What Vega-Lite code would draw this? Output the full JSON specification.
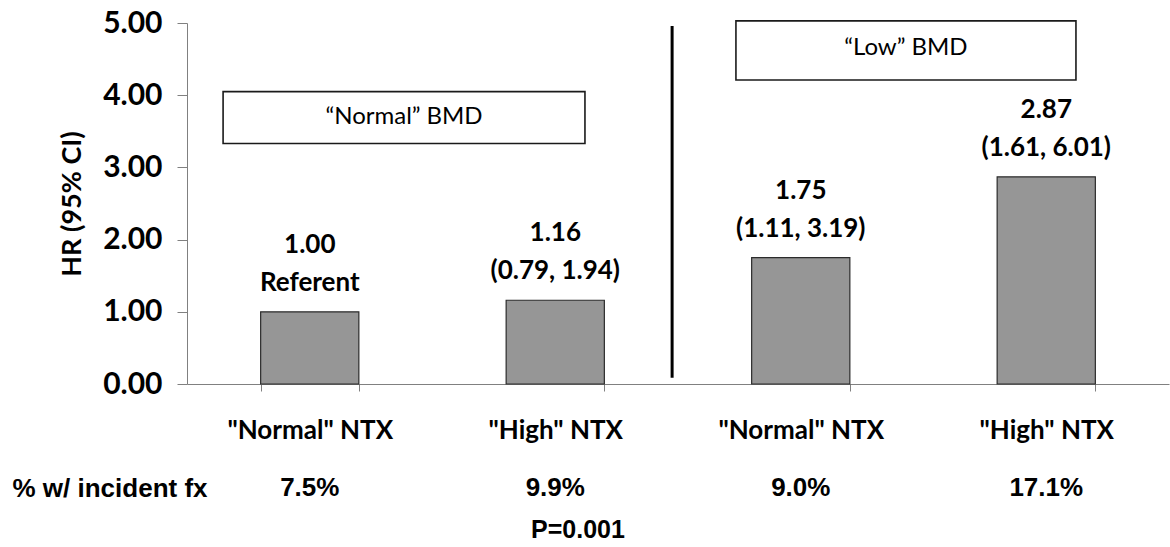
{
  "$schema": "https://vega.github.io/schema/vega-lite/v6.json",
  "width": 982,
  "height": 361,
  "autosize": "none",
  "padding": {"left": 187, "top": 23, "right": 1, "bottom": 163},
  "background": "white",
  "config": {"view": {"stroke": null}, "font": "Lato"},
  "title": {
    "text": "P=0.001",
    "orient": "bottom",
    "anchor": "middle",
    "font": "Liberation Sans",
    "fontSize": 25,
    "fontWeight": "bold",
    "color": "#000000",
    "dx": -100,
    "offset": 17
  },
  "datasets": {
    "hr": [
      {"group": "Normal BMD: \"Normal\" NTX", "hr": 1.00, "ci": "Referent", "pct": "7.5%"},
      {"group": "Normal BMD: \"High\" NTX", "hr": 1.16, "ci": "(0.79, 1.94)", "pct": "9.9%"},
      {"group": "Low BMD: \"Normal\" NTX", "hr": 1.75, "ci": "(1.11, 3.19)", "pct": "9.0%"},
      {"group": "Low BMD: \"High\" NTX", "hr": 2.87, "ci": "(1.61, 6.01)", "pct": "17.1%"}
    ],
    "boxes": [
      {"label": "“Normal” BMD", "x0": 0.147, "x1": 1.621, "y0": 3.33, "y1": 4.05, "xc": 0.884, "yc": 3.695},
      {"label": "“Low” BMD", "x0": 2.236, "x1": 3.621, "y0": 4.21, "y1": 5.03, "xc": 2.928, "yc": 4.66}
    ],
    "divider": [
      {"x": 1.976, "y0": 0.088, "y1": 4.96}
    ]
  },
  "layer": [
    {
      "data": {"name": "hr"},
      "encoding": {
        "x": {
          "field": "group",
          "type": "nominal",
          "sort": null,
          "scale": {"paddingInner": 0.6, "paddingOuter": 0.3},
          "axis": {
            "title": "% w/ incident fx",
            "labelExpr": "split(datum.label, ': ')[1]",
            "labelFont": "Lato",
            "labelFontSize": 26,
            "labelFontWeight": "bold",
            "labelColor": "#000000",
            "labelAngle": 0,
            "labelBaseline": "middle",
            "labelPadding": 39,
            "labelLimit": 0,
            "tickBand": "extent",
            "tickSize": 7,
            "tickColor": "#808080",
            "domainColor": "#808080",
            "titleFont": "Liberation Sans",
            "titleFontSize": 26,
            "titleFontWeight": "bold",
            "titleColor": "#000000",
            "titleX": -175,
            "titleY": 104,
            "titleAlign": "left",
            "titleBaseline": "middle"
          }
        }
      },
      "layer": [
        {
          "mark": {"type": "bar", "fill": "#969696", "stroke": "#2b2b2b", "strokeWidth": 1.2},
          "encoding": {
            "y": {
              "field": "hr",
              "type": "quantitative",
              "scale": {"domain": [0, 5]},
              "axis": {
                "title": "HR (95% CI)",
                "values": [0, 1, 2, 3, 4, 5],
                "format": ".2f",
                "grid": false,
                "labelFont": "Lato",
                "labelFontSize": 30,
                "labelFontWeight": "bold",
                "labelColor": "#000000",
                "tickSize": 10,
                "labelPadding": 15,
                "tickColor": "#808080",
                "domainColor": "#808080",
                "titleFont": "Lato",
                "titleFontSize": 27,
                "titleFontWeight": "bold",
                "titleColor": "#000000",
                "titleX": -115,
                "titleY": 180.5,
                "titleAngle": 270,
                "titleBaseline": "middle",
                "titleAlign": "center"
              }
            }
          }
        },
        {
          "mark": {"type": "text", "font": "Lato", "fontSize": 26, "fontWeight": "bold", "color": "#000000", "baseline": "middle", "dy": -67},
          "encoding": {
            "y": {"field": "hr", "type": "quantitative", "scale": {"domain": [0, 5]}},
            "text": {"field": "hr", "type": "quantitative", "format": ".2f"}
          }
        },
        {
          "mark": {"type": "text", "font": "Lato", "fontSize": 26, "fontWeight": "bold", "color": "#000000", "baseline": "middle", "dy": -29},
          "encoding": {
            "y": {"field": "hr", "type": "quantitative", "scale": {"domain": [0, 5]}},
            "text": {"field": "ci", "type": "nominal"}
          }
        },
        {
          "mark": {"type": "text", "font": "Liberation Sans", "fontSize": 26, "fontWeight": "bold", "color": "#000000", "baseline": "middle"},
          "encoding": {
            "y": {"datum": -1.436, "type": "quantitative", "scale": {"domain": [0, 5]}},
            "text": {"field": "pct", "type": "nominal"}
          }
        }
      ]
    },
    {
      "layer": [
        {
          "data": {"name": "boxes"},
          "mark": {"type": "rect", "fill": "white", "stroke": "#1a1a1a", "strokeWidth": 1.6},
          "encoding": {
            "x": {"field": "x0", "type": "quantitative", "scale": {"domain": [0, 4], "nice": false, "zero": false}, "axis": null},
            "x2": {"field": "x1"},
            "y": {"field": "y0", "type": "quantitative", "scale": {"domain": [0, 5]}},
            "y2": {"field": "y1"}
          }
        },
        {
          "data": {"name": "boxes"},
          "mark": {"type": "text", "font": "Lato", "fontSize": 24, "color": "#000000", "baseline": "middle", "align": "center"},
          "encoding": {
            "x": {"field": "xc", "type": "quantitative", "scale": {"domain": [0, 4], "nice": false, "zero": false}, "axis": null},
            "y": {"field": "yc", "type": "quantitative", "scale": {"domain": [0, 5]}},
            "text": {"field": "label", "type": "nominal"}
          }
        },
        {
          "data": {"name": "divider"},
          "mark": {"type": "rule", "stroke": "#000000", "strokeWidth": 3},
          "encoding": {
            "x": {"field": "x", "type": "quantitative", "scale": {"domain": [0, 4], "nice": false, "zero": false}, "axis": null},
            "y": {"field": "y0", "type": "quantitative", "scale": {"domain": [0, 5]}},
            "y2": {"field": "y1"}
          }
        }
      ]
    }
  ],
  "resolve": {"scale": {"x": "independent"}}
}
